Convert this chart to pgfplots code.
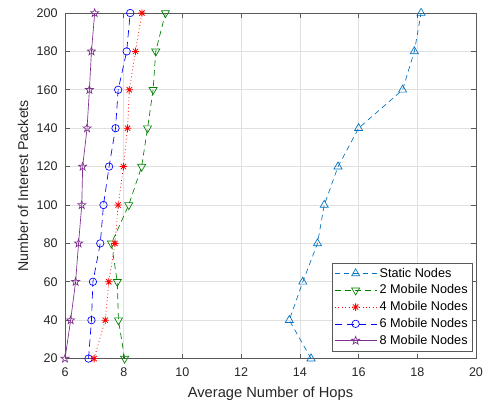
\documentclass[border=0pt]{standalone}
\usepackage{fontspec}
\setmainfont{Liberation Sans}
\usepackage{pgfplots}
\pgfplotsset{compat=1.18}
\usetikzlibrary{plotmarks,calc}

\definecolor{mlblue}{rgb}{0,0.447,0.741}
\definecolor{mlgreen}{rgb}{0,0.5,0}
\definecolor{mlpurple}{rgb}{0.494,0.184,0.556}
\definecolor{axgray}{rgb}{0.15,0.15,0.15}

% open five-pointed star, as MATLAB's 'p'
\pgfdeclareplotmark{pentagram}{%
  \pgfpathmoveto{\pgfpointpolar{90}{\pgfplotmarksize}}%
  \pgfpathlineto{\pgfpointpolar{126}{0.4\pgfplotmarksize}}%
  \pgfpathlineto{\pgfpointpolar{162}{\pgfplotmarksize}}%
  \pgfpathlineto{\pgfpointpolar{198}{0.4\pgfplotmarksize}}%
  \pgfpathlineto{\pgfpointpolar{234}{\pgfplotmarksize}}%
  \pgfpathlineto{\pgfpointpolar{270}{0.4\pgfplotmarksize}}%
  \pgfpathlineto{\pgfpointpolar{306}{\pgfplotmarksize}}%
  \pgfpathlineto{\pgfpointpolar{342}{0.4\pgfplotmarksize}}%
  \pgfpathlineto{\pgfpointpolar{18}{\pgfplotmarksize}}%
  \pgfpathlineto{\pgfpointpolar{54}{0.4\pgfplotmarksize}}%
  \pgfpathclose
  \pgfusepathqstroke}
% eight-armed asterisk, as MATLAB's '*'
\pgfdeclareplotmark{star8}{%
  \pgfpathmoveto{\pgfqpoint{-\pgfplotmarksize}{0pt}}%
  \pgfpathlineto{\pgfqpoint{\pgfplotmarksize}{0pt}}%
  \pgfpathmoveto{\pgfqpoint{0pt}{-\pgfplotmarksize}}%
  \pgfpathlineto{\pgfqpoint{0pt}{\pgfplotmarksize}}%
  \pgfpathmoveto{\pgfpointpolar{45}{\pgfplotmarksize}}%
  \pgfpathlineto{\pgfpointpolar{225}{\pgfplotmarksize}}%
  \pgfpathmoveto{\pgfpointpolar{135}{\pgfplotmarksize}}%
  \pgfpathlineto{\pgfpointpolar{315}{\pgfplotmarksize}}%
  \pgfusepathqstroke}

\begin{document}
\begin{tikzpicture}
\begin{axis}[
  name=ax,
  scale only axis,
  width=308pt, height=259pt,
  xmin=6, xmax=20, ymin=20, ymax=200,
  xtick={6,8,...,20}, ytick={20,40,...,200},
  grid=major,
  major grid style={draw=black!12, line width=0.5pt},
  axis line style={draw=black!65, line width=0.5pt},
  tick style={draw=black!65, line width=0.5pt},
  tick align=inside,
  major tick length=3.5pt,
  ticklabel style={font=\fontsize{9.4}{11}\selectfont, text=axgray},
  xticklabel style={yshift=-3.5pt},
  yticklabel style={xshift=-2pt},
  /pgf/number format/assume math mode=true,
  xlabel={Average Number of Hops},
  ylabel={Number of Interest Packets},
  xlabel style={font=\fontsize{11}{13}\selectfont, text=axgray,
    at={(axis description cs:0.5,-0.1004)}, anchor=center},
  ylabel style={font=\fontsize{10.6}{12}\selectfont, text=axgray,
    at={(axis description cs:-0.1023,0.5)}, anchor=center},
  legend style={font=\fontsize{9.5}{11}\selectfont, draw=black!65,
    at={(axis description cs:1,0)}, anchor=south east,
    xshift=-2.25pt, yshift=5.25pt,
    row sep=0.2pt, inner sep=1.8pt},
  legend cell align=left,
  legend image code/.code={%
    \draw[mark repeat=2,mark phase=2] plot coordinates {(0cm,0cm) (0.55cm,0cm) (1.1cm,0cm)};},
  mark options={solid},
]
\addplot[mlblue, dash pattern=on 4pt off 3pt, line width=0.5pt, mark=triangle, mark size=3.5pt] coordinates {
  (14.38,20) (13.64,40) (14.10,60) (14.60,80) (14.83,100)
  (15.30,120) (16.00,140) (17.50,160) (17.90,180) (18.13,200)
};
\addlegendentry{Static Nodes}
\addplot[mlgreen, dash pattern=on 4.5pt off 3pt, line width=0.5pt, mark=triangle, mark size=3.5pt, mark options={rotate=180,solid}] coordinates {
  (8.03,20) (7.82,40) (7.78,60) (7.58,80) (8.17,100)
  (8.61,120) (8.81,140) (9.00,160) (9.09,180) (9.42,200)
};
\addlegendentry{2 Mobile Nodes}
\addplot[red, dotted, line width=0.6pt, mark=star8, mark size=2.8pt] coordinates {
  (6.99,20) (7.37,40) (7.49,60) (7.70,80) (7.81,100)
  (7.99,120) (8.13,140) (8.19,160) (8.40,180) (8.62,200)
};
\addlegendentry{4 Mobile Nodes}
\addplot[blue, dash pattern=on 5.5pt off 3.5pt, line width=0.5pt, mark=o, mark size=2.8pt] coordinates {
  (6.80,20) (6.90,40) (6.95,60) (7.20,80) (7.31,100)
  (7.50,120) (7.72,140) (7.81,160) (8.10,180) (8.22,200)
};
\addlegendentry{6 Mobile Nodes}
\addplot[mlpurple, solid, line width=0.5pt, mark=pentagram, mark size=3.2pt] coordinates {
  (6.00,20) (6.19,40) (6.36,60) (6.46,80) (6.57,100)
  (6.60,120) (6.75,140) (6.83,160) (6.90,180) (7.01,200)
};
\addlegendentry{8 Mobile Nodes}
\end{axis}
\pgfresetboundingbox
\path ($(ax.south west)+(-48.75pt,-36pt)$) rectangle ($(ax.north east)+(9pt,9.75pt)$);
\end{tikzpicture}
\end{document}
